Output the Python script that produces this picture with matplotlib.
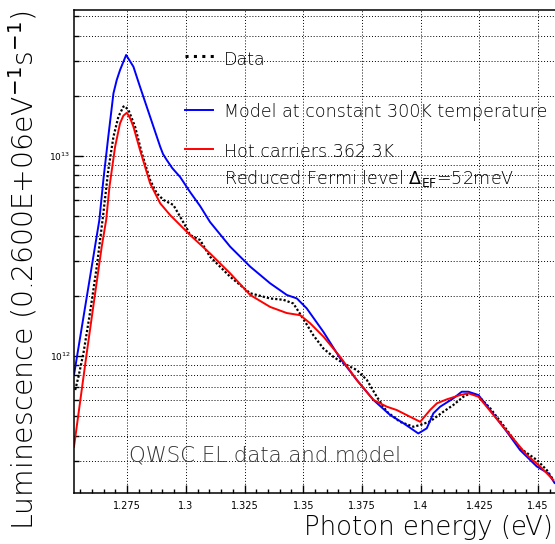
import numpy as np
import matplotlib.pyplot as plt
from matplotlib.ticker import FixedLocator, FixedFormatter, MultipleLocator, LogLocator, NullFormatter

plt.rcParams['font.family'] = ['DejaVu Sans']
plt.rcParams['mathtext.fontset'] = 'dejavusans'

# photon energy (eV) and luminescence (units of 1e12)
e_data = [1.2529, 1.2543, 1.2564, 1.2592, 1.2621, 1.2642, 1.2649, 1.2670, 1.2692,
          1.2713, 1.2734, 1.2739, 1.2756, 1.2784, 1.2813, 1.2848, 1.2876, 1.2905,
          1.2947, 1.2976, 1.3004, 1.3018, 1.3061, 1.3103, 1.3189, 1.3274, 1.3359,
          1.3416, 1.3458, 1.3501, 1.3543, 1.3586, 1.3628, 1.3671, 1.3728, 1.3771,
          1.3813, 1.3856, 1.3912, 1.3969, 1.3998, 1.4040, 1.4097, 1.4139, 1.4182,
          1.4211, 1.4246, 1.4296, 1.4367, 1.4423, 1.4495, 1.4537, 1.4565]
i_data = [0.676, 0.788, 1.03, 1.64, 2.80, 4.43, 5.17, 8.51, 12.49,
          15.72, 17.63, 17.78, 16.98, 14.01, 10.31, 7.59, 6.51, 6.03,
          5.69, 4.97, 4.35, 4.03, 3.80, 3.14, 2.49, 2.06, 1.94,
          1.91, 1.83, 1.53, 1.27, 1.09, 0.992, 0.919, 0.851, 0.759,
          0.626, 0.527, 0.469, 0.443, 0.452, 0.471, 0.527, 0.569, 0.626,
          0.651, 0.631, 0.548, 0.427, 0.346, 0.302, 0.269, 0.240]

e_model = [1.2524, 1.2632, 1.2649, 1.2670, 1.2692, 1.2706, 1.2720, 1.2746, 1.2777,
           1.2805, 1.2848, 1.2891, 1.2903, 1.2919, 1.2942, 1.2976, 1.3018, 1.3061,
           1.3103, 1.3189, 1.3274, 1.3359, 1.3430, 1.3473, 1.3515, 1.3586, 1.3657,
           1.3728, 1.3799, 1.3870, 1.3927, 1.3990, 1.4026, 1.4054, 1.4083, 1.4139,
           1.4175, 1.4203, 1.4246, 1.4296, 1.4367, 1.4423, 1.4495, 1.4544, 1.4570]
i_model = [0.804, 4.79, 7.59, 12.49, 20.58, 24.0, 26.9, 32.0, 27.96,
           22.2, 15.72, 11.13, 10.23, 9.55, 8.71, 7.85, 6.61, 5.62,
           4.68, 3.52, 2.80, 2.31, 2.02, 1.94, 1.73, 1.32, 0.974,
           0.759, 0.603, 0.507, 0.461, 0.410, 0.435, 0.517, 0.558, 0.614,
           0.663, 0.663, 0.638, 0.537, 0.418, 0.339, 0.280, 0.259, 0.232]

e_hot = [1.2524, 1.2578, 1.2614, 1.2642, 1.2661, 1.2675, 1.2699, 1.2720, 1.2734,
         1.2749, 1.2763, 1.2777, 1.2805, 1.2848, 1.2891, 1.2933, 1.3018, 1.3103,
         1.3189, 1.3274, 1.3359, 1.3430, 1.3487, 1.3529, 1.3586, 1.3657, 1.3728,
         1.3799, 1.3856, 1.3898, 1.3955, 1.3998, 1.4040, 1.4069, 1.4111, 1.4168,
         1.4203, 1.4246, 1.4310, 1.4381, 1.4452, 1.4509, 1.4565]
i_hot = [0.352, 1.03, 2.06, 3.52, 4.79, 7.02, 11.13, 14.57, 15.9,
         16.46, 15.44, 14.01, 10.72, 7.30, 5.80, 5.07, 4.03, 3.26,
         2.59, 2.02, 1.76, 1.64, 1.60, 1.46, 1.25, 0.992, 0.759,
         0.603, 0.558, 0.537, 0.497, 0.469, 0.537, 0.580, 0.607, 0.638,
         0.651, 0.626, 0.507, 0.403, 0.320, 0.280, 0.240]

x_ticks = [1.275, 1.3, 1.325, 1.35, 1.375, 1.4, 1.425, 1.45]
x_labels = ["1.275", "1.3", "1.325", "1.35", "1.375", "1.4", "1.425", "1.45"]

scale = 1e12
fig = plt.figure(figsize=(5.55, 5.44), dpi=100)
ax = fig.add_axes([74 / 555, 51 / 544, 481 / 555, 483 / 544])

ax.plot(e_data, np.array(i_data) * scale, color='black', lw=1.6,
        linestyle=(0, (1, 0.9)))
ax.plot(e_model, np.array(i_model) * scale, color='#0000ff', lw=1.4)
ax.plot(e_hot, np.array(i_hot) * scale, color='#ff0000', lw=1.4)

ax.set_yscale('log')
ax.set_xlim(1.2524, 1.4572)
ax.set_ylim(2.066e11, 5.37e13)

ax.xaxis.set_major_locator(FixedLocator(x_ticks))
ax.xaxis.set_major_formatter(FixedFormatter(x_labels))
ax.xaxis.set_minor_locator(MultipleLocator(0.005))
ax.yaxis.set_major_locator(LogLocator(base=10, numticks=10))
ax.yaxis.set_minor_locator(LogLocator(base=10, subs=np.arange(2, 10), numticks=10))
ax.yaxis.set_minor_formatter(NullFormatter())

gridstyle = dict(color='black', lw=0.7, linestyle=(0, (1, 2)))
ax.grid(True, which='major', axis='x', **gridstyle)
ax.grid(True, which='both', axis='y', **gridstyle)

ax.tick_params(which='both', direction='in', top=False, right=False, width=1)
ax.tick_params(axis='x', which='major', length=6, labelsize=7, pad=6)
ax.tick_params(axis='x', which='minor', length=3.2)
ax.tick_params(axis='y', which='major', length=6.5, labelsize=6.5, pad=2.5)
ax.tick_params(axis='y', which='minor', length=3.4)
ax.spines['right'].set_visible(False)
for s in ['left', 'bottom', 'top']:
    ax.spines[s].set_linewidth(1.1)

# legend, drawn by hand to keep ROOT-like spacing
tr = ax.transAxes
ax.plot([0.2308, 0.2910], [0.9048, 0.9048], transform=tr, color='black',
        lw=2.2, linestyle=(0, (1, 1.75)), clip_on=False)
ax.plot([0.2308, 0.2890], [0.7930, 0.7930], transform=tr, color='#0000ff', lw=1.4)
ax.plot([0.2308, 0.2890], [0.7112, 0.7112], transform=tr, color='#ff0000', lw=1.4)
fs_leg = 12.6
ax.text(0.3119, 0.8867, "Data", transform=tr, fontsize=fs_leg, fontweight='light')
ax.text(0.3119, 0.7791, "Model at constant 300K temperature", transform=tr,
        fontsize=fs_leg, fontweight='light')
ax.text(0.3119, 0.6963, "Hot carriers 362.3K", transform=tr,
        fontsize=fs_leg, fontweight='light')
ax.text(0.3119, 0.6391, r"Reduced Fermi level $\Delta_{\mathrm{EF}}$=52meV", transform=tr,
        fontsize=fs_leg, fontweight='light')

ax.text(0.1143, 0.0648, "QWSC EL data and model", transform=tr, fontsize=15.3,
        color='#333333', fontweight='light')

fig.text(553 / 555, 9 / 544, "Photon energy (eV)", ha='right', va='baseline',
         fontsize=18.7, fontweight='light')
fig.text(33.5 / 555, 1 - 10 / 544, r"Luminescence (0.2600E+06eV$^{-1}$s$^{-1}$)",
         rotation=90, rotation_mode='anchor', ha='right', va='baseline',
         fontsize=20.3, fontweight='light')

fig.savefig('out.png', dpi=100)
